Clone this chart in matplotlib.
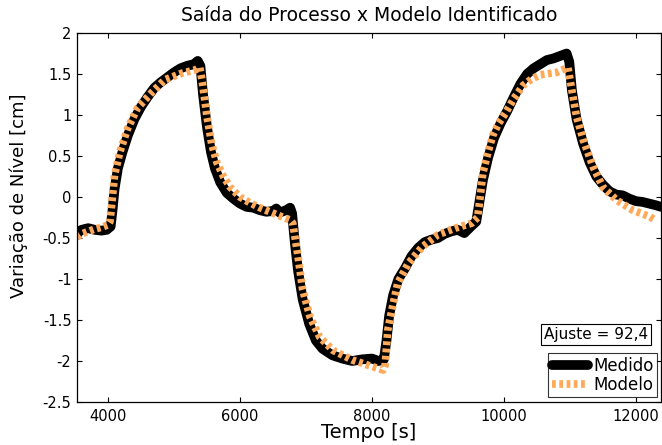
import matplotlib
matplotlib.use("Agg")
import matplotlib.pyplot as plt

plt.rcParams['font.family'] = ['DejaVu Sans']

# Medido
t_med = [3530, 3560, 3600, 3700, 3800, 3900, 3980, 4040, 4070, 4100, 4150, 4220,
         4300, 4400, 4500, 4600, 4700, 4800, 4900, 5000, 5100, 5200, 5300, 5360,
         5400, 5440, 5500, 5560, 5620, 5700, 5800, 5900, 6000, 6100, 6200, 6300,
         6400, 6500, 6550, 6600, 6700, 6760, 6790, 6830, 6880, 6950, 7050, 7150,
         7250, 7400, 7550, 7700, 7850, 8000, 8100, 8180, 8220, 8260, 8320, 8400,
         8500, 8600, 8700, 8800, 8900, 9000, 9100, 9200, 9300, 9400, 9500, 9580,
         9620, 9680, 9760, 9850, 9950, 10050, 10150, 10250, 10350, 10450, 10550,
         10650, 10750, 10850, 10950, 10990, 11030, 11100, 11200, 11300, 11400,
         11500, 11600, 11700, 11800, 11900, 12000, 12100, 12200, 12300, 12380]
y_med = [-0.46, -0.42, -0.40, -0.38, -0.40, -0.41, -0.40, -0.36, -0.15, 0.10, 0.35, 0.55,
         0.75, 0.95, 1.10, 1.22, 1.33, 1.40, 1.46, 1.52, 1.57, 1.60, 1.62, 1.66,
         1.60, 1.25, 0.85, 0.55, 0.35, 0.18, 0.05, -0.02, -0.08, -0.12, -0.13, -0.16,
         -0.18, -0.17, -0.14, -0.19, -0.16, -0.13, -0.20, -0.55, -0.90, -1.25, -1.55, -1.75,
         -1.85, -1.93, -1.97, -2.00, -1.98, -1.97, -2.00, -1.98, -1.75, -1.45, -1.20, -1.00,
         -0.87, -0.72, -0.62, -0.55, -0.52, -0.50, -0.45, -0.42, -0.40, -0.44, -0.36, -0.30,
         -0.10, 0.20, 0.48, 0.72, 0.90, 1.05, 1.22, 1.38, 1.50, 1.57, 1.62,
         1.67, 1.69, 1.72, 1.75, 1.65, 1.30, 0.95, 0.65, 0.42, 0.25,
         0.15, 0.07, 0.03, 0.02, -0.02, -0.05, -0.06, -0.08, -0.10, -0.12]

# Modelo
t_mod = [3530, 3600, 3700, 3800, 3900, 4000, 4030, 4060, 4100, 4180, 4300, 4450,
         4670, 4860, 5120, 5320, 5390, 5430, 5500, 5570, 5650, 5750, 5850, 6000,
         6150, 6300, 6450, 6600, 6760, 6800, 6880, 6950, 7060, 7210, 7410, 7710,
         8010, 8170, 8200, 8240, 8300, 8390, 8550, 8760, 9000, 9260, 9510, 9600,
         9640, 9680, 9760, 9830, 9920, 10020, 10150, 10290, 10420, 10550, 10800,
         10970, 11030, 11100, 11200, 11350, 11500, 11710, 11950, 12210, 12290]
y_mod = [-0.49, -0.45, -0.42, -0.39, -0.37, -0.34, -0.30, -0.06, 0.27, 0.55, 0.84, 1.09,
         1.28, 1.43, 1.51, 1.55, 1.58, 1.40, 0.98, 0.65, 0.42, 0.25, 0.12, 0.00,
         -0.07, -0.13, -0.18, -0.23, -0.28, -0.32, -0.73, -1.13, -1.46, -1.71, -1.87, -1.99,
         -2.07, -2.11, -2.05, -1.62, -1.38, -1.05, -0.81, -0.61, -0.46, -0.38, -0.32, -0.25,
         0.00, 0.29, 0.55, 0.75, 0.90, 1.02, 1.20, 1.36, 1.44, 1.49, 1.52,
         1.58, 1.30, 0.98, 0.70, 0.37, 0.12, -0.04, -0.16, -0.24, -0.28]

ajuste = "92,4"

fig = plt.figure(figsize=(6.62, 4.45), dpi=100)
ax = fig.add_axes([0.1163, 0.0966, 0.8822, 0.8292])

ax.plot(t_med, y_med, color='k', lw=7, solid_joinstyle='round',
        solid_capstyle='round', label='Medido')
ax.plot(t_mod, y_mod, color='#FFAA5A', lw=5.5, dashes=(0.5, 0.45),
        dash_capstyle='butt', label='Modelo')

ax.set_xlim(3530, 12380)
ax.set_ylim(-2.5, 2)
ax.set_xticks([4000, 6000, 8000, 10000, 12000])
ax.set_yticks([-2.5, -2, -1.5, -1, -0.5, 0, 0.5, 1, 1.5, 2])
ax.set_yticklabels(['-2.5', '-2', '-1.5', '-1', '-0.5', '0', '0.5', '1', '1.5', '2'])
ax.tick_params(direction='in', top=True, right=True, labelsize=10.5, length=3.5,
               width=0.8)
ax.tick_params(axis='x', pad=5)
ax.tick_params(axis='y', pad=4)
for s in ax.spines.values():
    s.set_linewidth(0.9)

ax.set_title('Saída do Processo x Modelo Identificado', fontsize=13.5, pad=9)
ax.set_xlabel('Tempo [s]', fontsize=14, labelpad=-1)
ax.set_ylabel('Variação de Nível [cm]', fontsize=13)
ax.yaxis.set_label_coords(-0.084, 0.558)

ax.text(0.889, 0.184, 'Ajuste = ' + ajuste, transform=ax.transAxes,
        ha='center', va='center', fontsize=11,
        bbox=dict(boxstyle='square,pad=0.2', fc='white', ec='k', lw=0.8))

leg = ax.legend(loc='lower right', bbox_to_anchor=(0.993, 0.0136), fontsize=12,
                frameon=True, fancybox=False, edgecolor='k', handlelength=2.2,
                borderpad=0.2, labelspacing=0.05, handletextpad=0.3,
                borderaxespad=0)
leg.get_frame().set_linewidth(0.8)

fig.savefig('out.png', dpi=100)
